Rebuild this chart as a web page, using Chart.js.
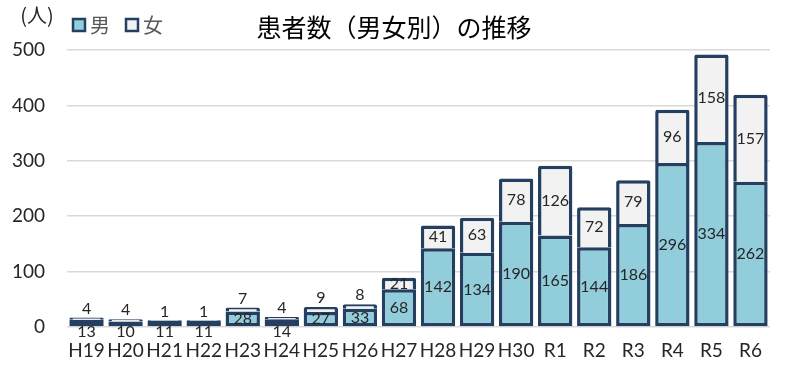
<!DOCTYPE html>
<html>
<head>
<meta charset="utf-8">
<script src="https://cdn.jsdelivr.net/npm/chart.js@4"></script>
<style>
  html, body { margin: 0; padding: 0; background: #fff; }
  #wrap { width: 791px; height: 370px; position: relative; }
</style>
</head>
<body>
<div id="wrap"><canvas id="myChart" width="791" height="370"></canvas></div>
<script>
const years = ["H19","H20","H21","H22","H23","H24","H25","H26","H27","H28","H29","H30","R1","R2","R3","R4","R5","R6"];
const male = [13,10,11,11,28,14,27,33,68,142,134,190,165,144,186,296,334,262];
const female = [4,4,1,1,7,4,9,8,21,41,63,78,126,72,79,96,158,157];
const yTicks = [0,100,200,300,400,500];

const numFont = "Lato, 'Noto Sans CJK JP', sans-serif";
const jpFont = "'Noto Sans CJK JP', sans-serif";
const navy = "#243F60";

// title, legend, unit label and the data labels
const extras = {
  id: "extras",
  afterDatasetsDraw(chart) {
    const ctx = chart.ctx;
    ctx.save();
    // data labels
    ctx.fillStyle = "#262626";
    ctx.font = "16px " + numFont;
    ctx.textAlign = "center";
    ctx.textBaseline = "middle";
    chart.data.datasets.forEach((ds, i) => {
      const meta = chart.getDatasetMeta(i);
      meta.data.forEach((bar, j) => {
        const v = ds.data[j];
        let y = (bar.y + bar.base) / 2;
        if (i == 0 && v < 20) y = bar.base + 6;
        if (i == 1 && v < 15) y = bar.y - 9;
        ctx.fillText(String(v), bar.x, y);
      });
    });

    // title
    ctx.fillStyle = "#000";
    ctx.font = "25px " + jpFont;
    ctx.fillText("患者数（男女別）の推移", 394, 27);

    // unit
    ctx.fillStyle = "#262626";
    ctx.font = "20px " + jpFont;
    ctx.fillText("(人)", 37, 15);

    // legend
    let x = 73;
    chart.data.datasets.forEach((ds) => {
      ctx.fillStyle = ds.backgroundColor;
      ctx.strokeStyle = navy;
      ctx.lineWidth = 2.5;
      ctx.fillRect(x, 19, 12, 12);
      ctx.strokeRect(x, 19, 12, 12);
      ctx.fillStyle = "#595959";
      ctx.font = "20px " + jpFont;
      ctx.textAlign = "left";
      ctx.fillText(ds.label, x + 17, 25);
      x += 53;
    });
    ctx.restore();
  }
};

const ctx = document.getElementById("myChart").getContext("2d");
const chart = new Chart(ctx, {
  type: "bar",
  data: {
    labels: years,
    datasets: [
      {
        label: "男",
        data: male,
        backgroundColor: "#92CDDC",
        borderColor: navy,
        borderWidth: 3.5,
        borderSkipped: false,
        borderRadius: 2,
        barPercentage: 0.88,
        categoryPercentage: 1.0
      },
      {
        label: "女",
        data: female,
        backgroundColor: "#F2F2F2",
        borderColor: navy,
        borderWidth: {top: 3.5, left: 3.5, right: 3.5, bottom: 0},
        borderSkipped: "bottom",
        borderRadius: 2,
        barPercentage: 0.88,
        categoryPercentage: 1.0
      }
    ]
  },
  options: {
    responsive: false,
    animation: false,
    layout: { padding: { top: 50, right: 21, left: 0, bottom: 0 } },
    plugins: {
      legend: { display: false },
      title: { display: false },
      tooltip: { enabled: false }
    },
    scales: {
      x: {
        stacked: true,
        grid: { display: false },
        border: { display: false },
        ticks: { color: "#262626", font: { family: numFont, size: 19 }, maxRotation: 0, autoSkip: false, padding: 4 },
        afterFit: (s) => { s.height = 43; }
      },
      y: {
        stacked: true,
        min: 0,
        max: 500,
        afterBuildTicks: (s) => { s.ticks = yTicks.map(v => ({ value: v })); },
        grid: { color: "#D9D9D9", lineWidth: 1.5, drawTicks: false },
        border: { display: false },
        ticks: { color: "#262626", font: { family: numFont, size: 19 }, padding: 22 },
        afterFit: (s) => { s.width = 67; }
      }
    }
  },
  plugins: [extras]
});
</script>
</body>
</html>
